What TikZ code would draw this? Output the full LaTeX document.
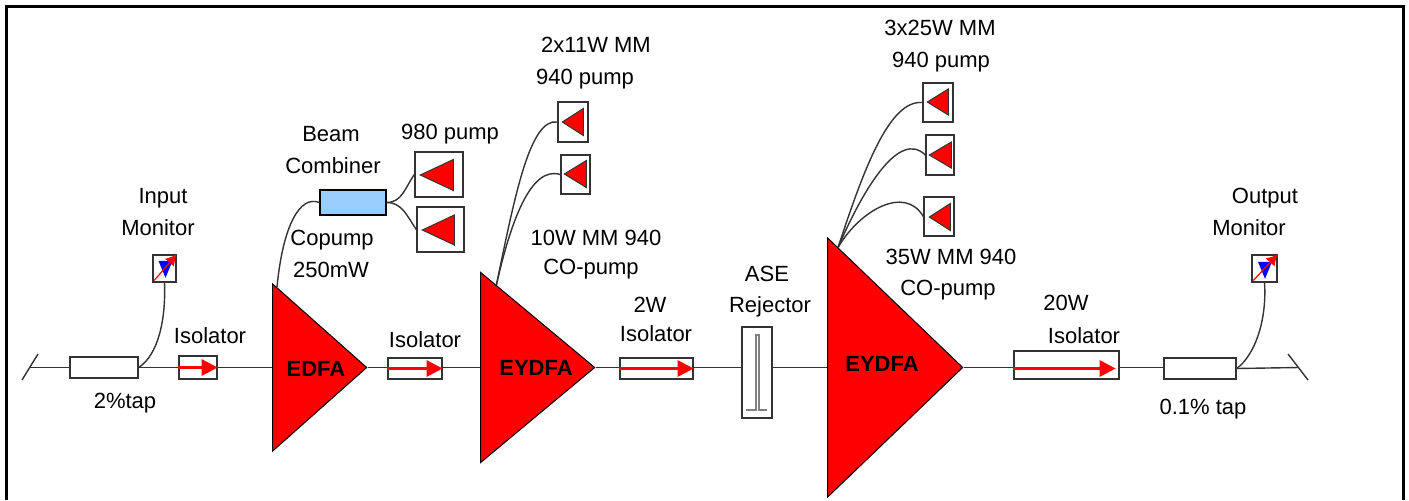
\documentclass[tikz,border=0pt]{standalone}
\usepackage{xcolor}
\usepackage{fontspec}
\setmainfont{Liberation Sans}
\usepackage{tikz}
\usetikzlibrary{arrows.meta,positioning,shapes.geometric,calc}
\definecolor{AmpRed}{HTML}{FF0000}
\definecolor{CombBlue}{HTML}{99CCFF}
\definecolor{WireGray}{HTML}{333333}

\begin{document}
\begin{tikzpicture}[x=0.5pt, y=-0.5pt, every node/.style={font=\fontsize{11}{13}\selectfont, inner sep=0pt},
  box/.style={draw=WireGray, line width=0.7pt, fill=white, minimum width=#1},
  amp/.style={isosceles triangle, isosceles triangle stretches, draw=black, line width=0.5pt, fill=AmpRed, anchor=apex},
  ampname/.style={font=\fontsize{11}{13}\selectfont\bfseries},
  pumptri/.style={isosceles triangle, isosceles triangle stretches, shape border rotate=180, draw=WireGray, line width=0.5pt, fill=AmpRed, anchor=apex},
  montri/.style={isosceles triangle, isosceles triangle stretches, shape border rotate=270, fill=blue, minimum width=7pt, minimum height=8.5pt},
  wire/.style={line width=0.7pt, color=WireGray},
  fibre/.style={line width=0.7pt, color=WireGray},
  redarrow/.style={-{Triangle[length=8pt, width=8pt]}, line width=1.4pt, color=AmpRed},
  probe/.style={-{Latex[length=5.5pt, width=6pt]}, line width=0.6pt, color=AmpRed, shorten <=1.5pt}]
\useasboundingbox (0,0) rectangle (1409,500);
\draw[line width=1.5pt] (6,500)--(6,6)--(1403,6)--(1403,500);
% main line
\coordinate (leftend) at (30,367.5);
\coordinate (rightend) at (1298,367.5);
\node[box=34pt, minimum height=10.5pt] (tapin) at (104,367.5) {};
\node[box=19pt, minimum height=11.5pt] (isoa) at (198,367.5) {};
\node[amp, minimum height=47pt, minimum width=83.5pt] (edfa) at (368,367.5) {};
\node[box=27pt, minimum height=10.5pt] (isob) at (415,368.5) {};
\node[amp, minimum height=57pt, minimum width=95pt] (eydfaa) at (596,367.5) {};
\node[box=36.5pt, minimum height=10.5pt] (isoc) at (656.5,368.5) {};
\node[box=15pt, minimum height=45.5pt] (ase) at (757,372.5) {};
\node[amp, minimum height=67.5pt, minimum width=129.5pt] (eydfab) at (964,367.5) {};
\node[box=52.5pt, minimum height=14pt] (isod) at (1066.5,365) {};
\node[box=36pt, minimum height=10.5pt] (tapout) at (1200,368.5) {};
\draw[wire] (22,380)--(38,354);
\draw[wire] (1288,354)--(1308,380);
\draw[wire] (leftend)--(tapin); \draw[wire] (tapin)--(isoa); \draw[wire] (isoa)--(edfa.lower side);
\draw[wire] (edfa.apex)--(edfa.apex-|isob.west); \draw[wire] (isob.east|-edfa.apex)--(eydfaa.lower side); \draw[wire] (eydfaa.apex)--(eydfaa.apex-|isoc.west);
\draw[wire] (isoc.east|-eydfaa.apex)--(eydfaa.apex-|ase.west); \draw[wire] (eydfaa.apex-|ase.east)--(eydfab.lower side); \draw[wire] (eydfab.apex)--(eydfab.apex-|isod.west);
\draw[wire] (isod.east|-eydfab.apex)--(eydfab.apex-|tapout.west); \draw[wire] (tapout.east)--(rightend);
\draw[redarrow] (isoa.west)--(isoa.east);
\draw[redarrow] (isob.west)--(isob.east);
\draw[redarrow] (isoc.west)--(isoc.east);
\draw[redarrow, shorten >=2pt] (isod.west|-tapout)--(isod.east|-tapout);
\draw[line width=1.2pt, color=gray] (746,410)--(756,410)--(756,335)--(759,335)--(759,410)--(767,410);
% input and output monitor
\node[box=11.5pt, minimum height=13.5pt] (monin) at (164.5,268.5) {};
\node[montri] (monintri) at (165.5,265.5) {};
\draw[probe] (monin.south west)--(monin.north east);
\node[box=12.5pt, minimum height=13.5pt] (monout) at (1264.5,268.5) {};
\node[montri] (monouttri) at (1265,266.5) {};
\draw[probe] (monout.south west)--(monout.north east);
\draw[fibre] (tapin.east) .. controls (158,355) and (166,320) .. (monin.south);
\draw[fibre] (tapout.east) .. controls (1255,355) and (1267,320) .. (monout.south);
% pumps
\node[box=24pt, minimum height=22.5pt] (pumpa) at (439,174.5) {};
\node[pumptri, minimum height=16.5pt, minimum width=15.5pt] (tria) at (419,175) {};
\node[box=23.5pt, minimum height=22.5pt] (pumpb) at (440.5,229.5) {};
\node[pumptri, minimum height=16pt, minimum width=15pt] (trib) at (421,230) {};
\node[draw=black, line width=0.7pt, fill=CombBlue, minimum width=33pt, minimum height=12.5pt] (comb) at (353,202.5) {};
\draw[fibre] (comb.east) to[out=0, in=235] (pumpa.west);
\draw[fibre] (comb.east) to[out=0, in=125] (pumpb.west);
\draw[fibre] (comb.west) .. controls (300,195) and (283,225) .. ($(edfa.left corner)!0.05!(edfa.apex)$);
\node[box=15pt, minimum height=20pt] (pumpc) at (573,122) {};
\node[pumptri, minimum height=10.5pt, minimum width=13.5pt] (tric) at (561,122) {};
\node[box=14.5pt, minimum height=19.5pt] (pumpd) at (575.5,174.5) {};
\node[pumptri, minimum height=11pt, minimum width=13.5pt] (trid) at (563,174) {};
\coordinate (eydfaatop) at ($(eydfaa.left corner)!0.14!(eydfaa.apex)$);
\draw[fibre] (eydfaatop) .. controls (515,195) and (530,118) .. (pumpc.west);
\draw[fibre] (eydfaatop) .. controls (510,225) and (530,165) .. (pumpd.west);
\node[box=15pt, minimum height=19.5pt] (pumpe) at (938,102.5) {};
\node[pumptri, minimum height=10.5pt, minimum width=13pt] (trie) at (926,102) {};
\node[box=14pt, minimum height=20pt] (pumpf) at (940,155) {};
\node[pumptri, minimum height=11pt, minimum width=13pt] (trif) at (928,155) {};
\node[box=15pt, minimum height=19.5pt] (pumpg) at (939,216.5) {};
\node[pumptri, minimum height=10.5pt, minimum width=13.5pt] (trig) at (928,217) {};
\coordinate (eydfabtop) at ($(eydfab.left corner)!0.08!(eydfab.apex)$);
\draw[fibre] (eydfabtop) .. controls (865,165) and (890,100) .. (pumpe.west);
\draw[fibre] (eydfabtop) .. controls (865,185) and (900,130) .. (pumpf.west);
\draw[fibre] (eydfabtop) .. controls (860,210) and (905,185) .. (pumpg.west);
% labels
\node[ampname] (lbedfa) at (316,369) {EDFA};
\node[ampname] (lbeydfaa) at (536,368) {EYDFA};
\node[ampname] (lbeydfab) at (882,364) {EYDFA};
\node (lbinput) at (163,198) {Input};
\node (lbinmon) at (158,228) {Monitor};
\node (lbisoa) at (210,336) {Isolator};
\node (lbtapin) at (125,403) {2\%tap};
\node (lbbeam) at (331,134) {Beam};
\node (lbcomb) at (333,166) {Combiner};
\node (lbninety) at (450,134) {980 pump};
\node (lbcopump) at (332,240) {Copump};
\node (lbcomw) at (331,270) {250mW};
\node (lbisob) at (425,340) {Isolator};
\node (lbtwo) at (596,45) {2x11W MM};
\node (lbnfa) at (585,79) {940 pump};
\node (lbten) at (596,238) {10W MM 940};
\node (lbcoa) at (591,269) {CO-pump};
\node (lbtww) at (650,305) {2W};
\node (lbisoc) at (656,334) {Isolator};
\node (lbase) at (767,274) {ASE};
\node (lbrej) at (770,307) {Rejector};
\node (lbthree) at (940,28) {3x25W MM};
\node (lbnfb) at (941,62) {940 pump};
\node (lbthirty) at (951,257) {35W MM 940};
\node (lbcob) at (948,290) {CO-pump};
\node (lbtwenty) at (1066,303) {20W};
\node (lbisod) at (1084,336) {Isolator};
\node (lboutput) at (1265,198) {Output};
\node (lboutmon) at (1249,228) {Monitor};
\node (lbtapout) at (1203,409) {0.1\% tap};
\end{tikzpicture}
\end{document}
